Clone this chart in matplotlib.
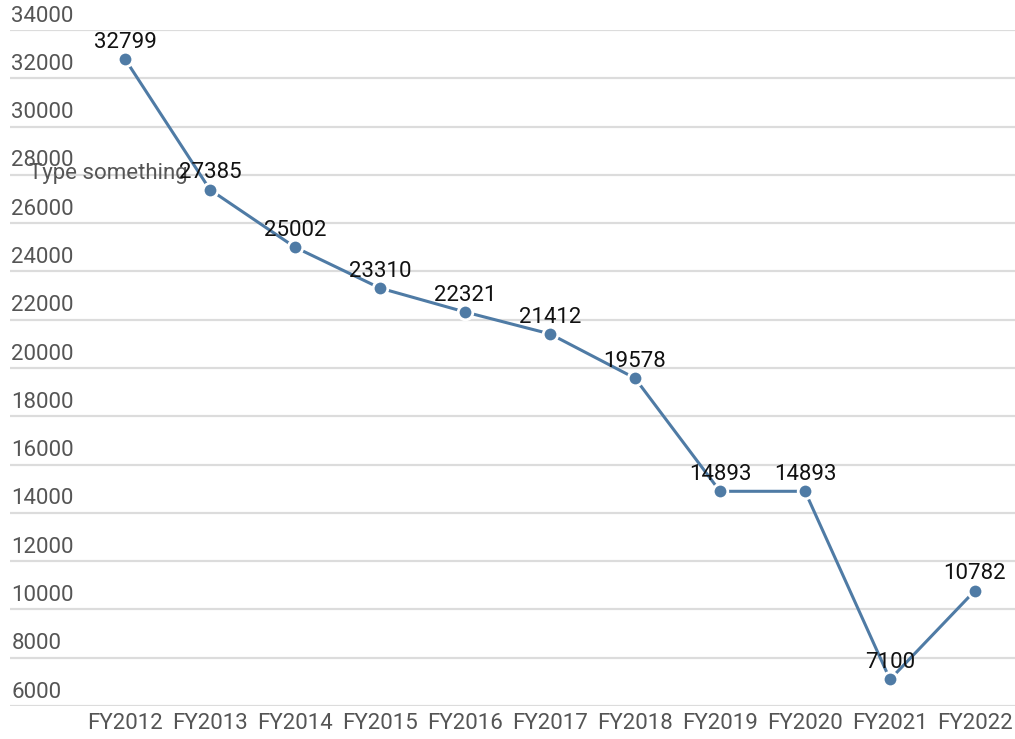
import matplotlib.pyplot as plt
import numpy as np

plt.rcParams['font.family'] = ['Roboto', 'DejaVu Sans']
plt.rcParams['font.size'] = 16

years = ['FY2012', 'FY2013', 'FY2014', 'FY2015', 'FY2016', 'FY2017',
         'FY2018', 'FY2019', 'FY2020', 'FY2021', 'FY2022']
values = [32799, 27385, 25002, 23310, 22321, 21412, 19578, 14893, 14893, 7100, 10782]
yticks = np.arange(6000, 34001, 2000)

fig = plt.figure(figsize=(10.15, 7.39), dpi=100)
ax = fig.add_axes([10/1015, 33/739, 1 - 10/1015, 676/739])
x = np.arange(len(years))

ax.set_xlim(-115/85, 10 + 40/85)
ax.set_ylim(6000, 34000)

for y in yticks:
    ax.axhline(y, color='#dcdcdc', lw=1.6, zorder=0)
    ax.annotate(str(y), xy=(0, y), xycoords=('axes fraction', 'data'),
                xytext=(1, 2.5), textcoords='offset points',
                ha='left', va='bottom', color='#555555', fontsize=16)

ax.plot(x, values, color='#4f7ba5', lw=2.2, marker='o', ms=10.5,
        mec='white', mew=2, zorder=3)

for xi, v in zip(x, values):
    ax.annotate(str(v), xy=(xi, v), xytext=(0, 4.5), textcoords='offset points',
                ha='center', va='bottom', color='#111111', fontsize=16, zorder=4)

# overlay note, placed in pixels from the top-left
ax.text(108, 739 - 174, 'Type something', transform=None, fontsize=16,
        color='#555555', ha='center', va='center')

ax.set_xticks(x)
ax.set_xticklabels(years, color='#555555', fontsize=16)
ax.tick_params(axis='x', length=0, pad=5)
ax.set_yticks([])
for s in ax.spines.values():
    s.set_visible(False)

fig.savefig('out.png', dpi=100)
